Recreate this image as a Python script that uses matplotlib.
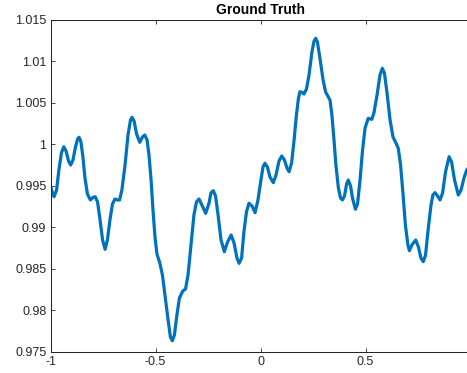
import numpy as np
import matplotlib
matplotlib.use("Agg")
import matplotlib.pyplot as plt

# values
x_vals = [-1.000, -0.993, -0.983, -0.971, -0.960, -0.948, -0.937, -0.926, -0.914, -0.904,
          -0.893, -0.881, -0.871, -0.864, -0.855, -0.845, -0.836, -0.824, -0.810, -0.798,
          -0.787, -0.776, -0.764, -0.752, -0.740, -0.729, -0.717, -0.705, -0.693, -0.681,
          -0.671, -0.660, -0.645, -0.631, -0.619, -0.612, -0.602, -0.590, -0.575, -0.562,
          -0.551, -0.540, -0.531, -0.521, -0.512, -0.502, -0.493, -0.479, -0.467, -0.455,
          -0.440, -0.429, -0.420, -0.410, -0.398, -0.386, -0.370, -0.357, -0.345, -0.331,
          -0.317, -0.305, -0.293, -0.279, -0.261, -0.245, -0.236, -0.225, -0.214, -0.202,
          -0.188, -0.172, -0.157, -0.140, -0.126, -0.112, -0.102, -0.090, -0.079, -0.067,
          -0.055, -0.040, -0.026, -0.012, 0.002, 0.012, 0.021, 0.033, 0.045, 0.061,
          0.074, 0.088, 0.101, 0.114, 0.126, 0.136, 0.148, 0.160, 0.171, 0.181,
          0.188, 0.198, 0.207, 0.219, 0.231, 0.245, 0.255, 0.263, 0.271, 0.283,
          0.298, 0.310, 0.318, 0.331, 0.340, 0.350, 0.359, 0.371, 0.381, 0.390,
          0.400, 0.410, 0.418, 0.429, 0.438, 0.452, 0.462, 0.474, 0.486, 0.498,
          0.513, 0.530, 0.540, 0.555, 0.569, 0.580, 0.590, 0.602, 0.617, 0.631,
          0.645, 0.656, 0.667, 0.679, 0.690, 0.702, 0.709, 0.721, 0.739, 0.752,
          0.764, 0.775, 0.786, 0.798, 0.812, 0.821, 0.831, 0.843, 0.855, 0.867,
          0.881, 0.898, 0.910, 0.924, 0.942, 0.955, 0.969, 0.982, 1.000]

y_vals = [0.99495, 0.99435, 0.99366, 0.99447, 0.99688, 0.99893, 0.99968, 0.99917, 0.99796, 0.99748,
          0.99808, 0.99965, 1.00061, 1.00082, 1.00025, 0.99832, 0.99592, 0.99399, 0.99327, 0.99357,
          0.99366, 0.99303, 0.99086, 0.98845, 0.98733, 0.98845, 0.99086, 0.99278, 0.99339, 0.99327,
          0.99327, 0.99447, 0.99748, 1.00109, 1.00290, 1.00322, 1.00278, 1.00121, 1.00021, 1.00085,
          1.00109, 1.00049, 0.99868, 0.99567, 0.99206, 0.98869, 0.98676, 0.98564, 0.98424, 0.98183,
          0.97882, 0.97677, 0.97632, 0.97701, 0.97942, 0.98147, 0.98231, 0.98255, 0.98424, 0.98785,
          0.99146, 0.99303, 0.99339, 0.99266, 0.99166, 0.99290, 0.99411, 0.99439, 0.99375, 0.99146,
          0.98845, 0.98704, 0.98821, 0.98905, 0.98809, 0.98628, 0.98564, 0.98628, 0.98941, 0.99182,
          0.99287, 0.99254, 0.99174, 0.99327, 0.99567, 0.99724, 0.99769, 0.99724, 0.99604, 0.99535,
          0.99628, 0.99796, 0.99856, 0.99808, 0.99712, 0.99667, 0.99772, 1.00049, 1.00350, 1.00555,
          1.00631, 1.00621, 1.00603, 1.00663, 1.00832, 1.01109, 1.01241, 1.01274, 1.01229, 1.01036,
          1.00772, 1.00627, 1.00591, 1.00531, 1.00350, 1.00049, 0.99748, 0.99471, 0.99351, 0.99327,
          0.99375, 0.99519, 0.99567, 0.99495, 0.99351, 0.99215, 0.99278, 0.99567, 0.99929, 1.00194,
          1.00310, 1.00298, 1.00374, 1.00591, 1.00832, 1.00912, 1.00856, 1.00627, 1.00290, 1.00085,
          1.00013, 0.99949, 0.99748, 0.99387, 0.99026, 0.98785, 0.98716, 0.98785, 0.98845, 0.98761,
          0.98628, 0.98584, 0.98664, 0.98965, 0.99266, 0.99387, 0.99415, 0.99375, 0.99327, 0.99411,
          0.99664, 0.99848, 0.99784, 0.99567, 0.99387, 0.99447, 0.99592, 0.99688, 0.99748]

x_ticks = [-1, -0.5, 0, 0.5]
x_tick_labels = ["-1", "-0.5", "0", "0.5"]
y_ticks = [0.975, 0.98, 0.985, 0.99, 0.995, 1.0, 1.005, 1.01, 1.015]
y_tick_labels = ["0.975", "0.98", "0.985", "0.99", "0.995", "1", "1.005", "1.01", "1.015"]

plt.rcParams['font.family'] = ['Liberation Sans', 'DejaVu Sans']

fig = plt.figure(figsize=(4.67, 3.73), dpi=100)
# axes box runs a little past the right edge, like the cropped original
ax = fig.add_axes([50.5/467, 21.3/373, 420/467, 332.2/373])

ax.plot(x_vals, y_vals, color='#0072BD', linewidth=2.3,
        solid_capstyle='round', solid_joinstyle='round')

ax.set_xlim(-1, 1)
ax.set_ylim(0.975, 1.015)
ax.set_xticks(x_ticks)
ax.set_xticklabels(x_tick_labels)
ax.set_yticks(y_ticks)
ax.set_yticklabels(y_tick_labels)

dark = '#262626'
ax.tick_params(direction='in', length=3, width=0.6, colors=dark, labelsize=9,
               top=True, right=True, pad=3)
for s in ax.spines.values():
    s.set_color(dark)
    s.set_linewidth(0.75)

ax.set_title('Ground Truth', fontsize=10, fontweight='bold', color='black', pad=4)

fig.savefig('out.png', dpi=100)
